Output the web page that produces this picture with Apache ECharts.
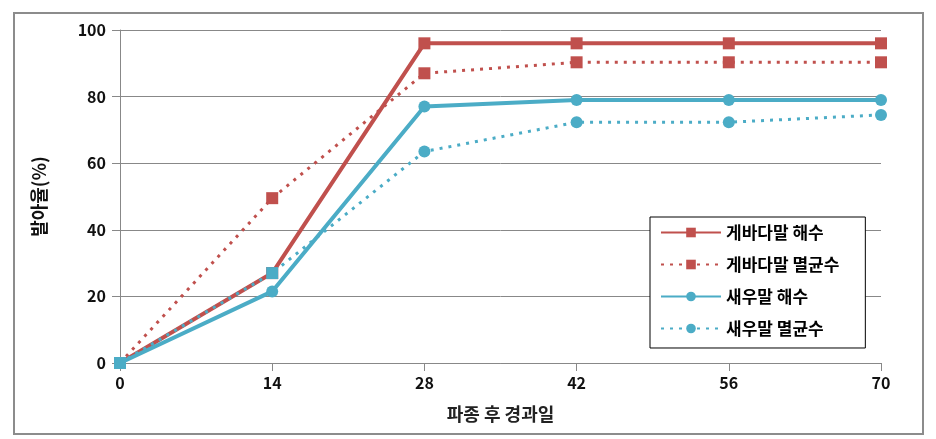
<!DOCTYPE html>
<html>
<head>
<meta charset="utf-8">
<script src="https://cdn.jsdelivr.net/npm/echarts@6/dist/echarts.min.js"></script>
<style>
html,body{margin:0;padding:0;background:#fff;}
#wrap{position:absolute;left:13px;top:12px;width:907px;height:419px;border:2px solid #8c8c8c;}
#chart{position:absolute;left:0;top:0;width:936px;height:439px;}
</style>
</head>
<body>
<div id="wrap"></div>
<div id="chart"></div>
<script>
const days = [0, 14, 28, 42, 56, 70];
const seriesNames = ['게바다말 해수', '게바다말 멸균수', '새우말 해수', '새우말 멸균수'];
const crabSea = [0, 27, 96, 96, 96, 96];
const crabSterile = [0, 49.5, 87, 90.3, 90.3, 90.3];
const shrimpSea = [0, 21.5, 77, 79, 79, 79];
const shrimpSterile = [0, 27, 63.5, 72.3, 72.3, 74.5];
const yTicks = [0, 20, 40, 60, 80, 100];

const RED = '#C0504D';
const BLUE = '#4BACC6';
const FONT = '"Noto Sans CJK KR", "Noto Sans", sans-serif';

function pairs(vals) { return days.map((d, i) => [d, vals[i]]); }

const chart = echarts.init(document.getElementById('chart'), null, {renderer: 'canvas'});
chart.setOption({
  animation: false,
  backgroundColor: 'transparent',
  grid: {left: 120, right: 55, top: 30, bottom: 76, containLabel: false},
  legend: {
    orient: 'vertical',
    left: 650, top: 217,
    padding: [7, 26, 11, 10],
    itemGap: 15,
    itemWidth: 60,
    itemHeight: 12,
    borderColor: '#000',
    borderWidth: 1,
    backgroundColor: '#fff',
    textStyle: {fontFamily: FONT, fontSize: 17, color: '#000', fontWeight: 'bold'},
    data: seriesNames
  },
  xAxis: {
    type: 'value', min: 0, max: 70, interval: 14,
    name: '파종 후 경과일', nameLocation: 'middle', nameGap: 42,
    nameTextStyle: {fontFamily: FONT, fontSize: 18, color: '#222', fontWeight: 'bold'},
    axisLine: {show: true, lineStyle: {color: '#888', width: 1}},
    axisTick: {show: true, length: 8, lineStyle: {color: '#888'}},
    axisLabel: {fontFamily: FONT, fontSize: 16, fontWeight: 'bold', color: '#111', margin: 12,
      formatter: v => String(v)},
    splitLine: {show: false}
  },
  yAxis: {
    type: 'value', min: 0, max: 100, interval: 20,
    name: '발아율(%)', nameLocation: 'middle', nameGap: 72, nameRotate: 90,
    nameTextStyle: {fontFamily: FONT, fontSize: 18, color: '#111', fontWeight: 'bold'},
    axisLine: {show: true, lineStyle: {color: '#888', width: 1}},
    axisTick: {show: true, length: 8, lineStyle: {color: '#888'}},
    axisLabel: {fontFamily: FONT, fontSize: 16, fontWeight: 'bold', color: '#111', margin: 14,
      formatter: v => yTicks.includes(v) ? String(v) : ''},
    splitLine: {show: true, lineStyle: {color: '#888', width: 1}}
  },
  series: [
    {name: seriesNames[0], type: 'line', data: pairs(crabSea), symbol: 'rect', symbolSize: 12,
      itemStyle: {color: RED}, lineStyle: {color: RED, width: 4}},
    {name: seriesNames[1], type: 'line', data: pairs(crabSterile), symbol: 'rect', symbolSize: 12,
      itemStyle: {color: RED}, lineStyle: {color: RED, width: 3, type: [3, 6]}},
    {name: seriesNames[2], type: 'line', data: pairs(shrimpSea), symbol: 'circle', symbolSize: 12,
      itemStyle: {color: BLUE}, lineStyle: {color: BLUE, width: 4}},
    {name: seriesNames[3], type: 'line', data: pairs(shrimpSterile),
      symbol: (v, p) => (p.dataIndex < 2 ? 'rect' : 'circle'), symbolSize: 12,
      itemStyle: {color: BLUE}, lineStyle: {color: BLUE, width: 3, type: [3, 6]}}
  ]
});
</script>
</body>
</html>
